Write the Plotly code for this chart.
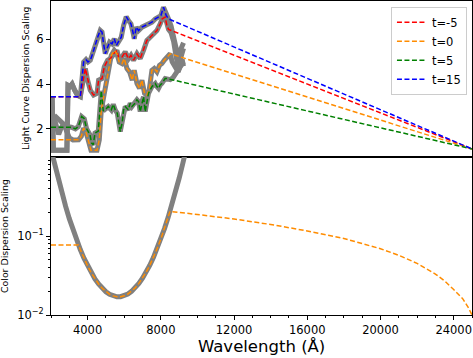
import plotly.graph_objects as go

# ---------------- data ----------------
# shared left part of the gray data for t=-5 and t=15
wl_left_hi = [2060, 2130, 2870, 2930, 3050, 3150, 3280, 3450]
lc_left_hi = [3.44, 1.04, 1.04, 3.95, 3.90, 4.00, 3.75, 3.50]

# t=15 (blue)
wl_t15 = [3602, 3782, 3911, 4020, 4147, 4273, 4420, 4547, 4693, 4786, 4873, 4966,
          5058, 5202, 5333, 5456, 5566, 5691, 5838, 5964, 6111, 6237, 6368, 6477,
          6548, 6657, 6782, 6968, 7147, 7327, 7513, 7693, 7873, 8004, 8146, 8293, 8420]
lc_t15 = [3.44, 4.99, 5.10, 4.99, 5.07, 5.36, 5.80, 6.10, 6.40, 6.33, 5.80, 5.36,
          5.58, 5.88, 5.80, 6.03, 5.73, 5.88, 6.10, 6.62, 7.02, 6.84, 6.70, 6.33,
          6.03, 6.55, 6.40, 6.55, 6.62, 6.70, 6.77, 6.92, 6.99, 7.07, 7.44, 7.07, 6.92]
wl_t15_tail = [8560, 8700, 8840, 8950, 9060, 9170, 9240]
lc_t15_tail = [6.60, 6.10, 5.50, 5.20, 5.50, 5.80, 5.85]

# t=-5 (red)
wl_tm5 = [3602, 3875, 4000, 4147, 4327, 4513, 4600, 4786, 4911, 5091, 5238, 5418,
          5604, 5691, 5876, 6056, 6237, 6368, 6509, 6695, 6875, 7055, 7240, 7420,
          7600, 7786, 7966, 8075, 8238, 8331, 8420]
lc_tm5 = [3.44, 4.70, 4.18, 3.73, 3.51, 3.59, 4.18, 4.25, 4.77, 5.07, 5.14, 5.36,
          5.51, 5.21, 5.21, 5.44, 5.14, 5.29, 5.07, 5.36, 5.14, 5.51, 5.96, 6.10,
          6.25, 6.40, 6.70, 6.92, 7.00, 6.62, 6.45]
wl_tm5_tail = [8560, 8700, 8840, 8950, 9060, 9170, 9240]
lc_tm5_tail = [6.30, 5.90, 5.20, 4.80, 5.10, 5.50, 5.60]

# t=0 (orange)
wl_t0_left = [2180, 2300, 2420, 2560, 2700, 2850, 3000, 3200]
lc_t0_left = [2.45, 2.00, 1.75, 2.05, 2.25, 1.90, 1.60, 1.50]
wl_t0 = [3509, 3656, 3782, 3929, 4055, 4185, 4513, 4638, 4747, 4873, 5020, 5146,
         5293, 5456, 5604, 5729, 5876, 6002, 6149, 6291, 6438, 6548, 6695, 6837,
         6968, 7109, 7240, 7365, 7513, 7638, 7786, 7928, 8058, 8184, 8331, 8511]
lc_t0 = [1.51, 1.66, 2.03, 1.81, 1.36, 1.04, 1.04, 1.51, 2.84, 3.44, 4.18, 4.77,
         5.29, 5.51, 5.36, 4.99, 4.92, 5.14, 4.70, 4.55, 4.18, 4.62, 4.03, 3.81,
         4.18, 3.59, 3.51, 3.73, 4.62, 4.70, 4.55, 4.84, 4.92, 5.07, 5.21, 5.36]
wl_t0_tail = [8620, 8729, 8838, 8948, 9057, 9166, 9237]
lc_t0_tail = [5.00, 4.85, 4.60, 4.55, 4.80, 5.10, 4.80]

# t=5 (green)
wl_t5_left = [2180, 2350, 2511, 2700, 2900]
lc_t5_left = [2.60, 2.50, 2.35, 2.20, 2.10]
wl_t5 = [3111, 3329, 3493, 3673, 3820, 3945, 4131, 4218, 4311, 4404, 4584, 4747,
         4856, 5020, 5129, 5293, 5402, 5511, 5620, 5784, 5893, 5964, 6056, 6220,
         6329, 6422, 6493, 6602, 6695, 6782, 6875, 6968, 7055, 7147, 7240, 7327,
         7513, 7600, 7693, 7786, 7873, 7966, 8058, 8238, 8331]
lc_t5 = [2.07, 2.00, 2.10, 2.55, 2.45, 2.00, 1.73, 1.36, 1.29, 1.81, 1.90, 3.70,
         2.80, 2.90, 3.00, 2.85, 3.10, 2.84, 2.70, 1.88, 2.30, 2.84, 3.00, 2.85,
         3.15, 3.00, 3.07, 3.15, 3.30, 3.22, 2.77, 3.22, 3.44, 2.77, 3.30, 3.59,
         3.89, 3.96, 4.03, 3.89, 3.81, 3.96, 4.03, 4.25, 4.25]
wl_t5_tail = [8511, 8675, 8838, 9002, 9166, 9237]
lc_t5_tail = [4.20, 4.30, 4.50, 4.60, 4.90, 5.00]

# model extrapolation anchors
wl_start, wl_end = 2000, 25000
lc_end_value = 1.10

# color dispersion (bottom panel)
wl_cd = [2000, 2200, 2400, 2600, 2800, 3000, 3200, 3400, 3500, 3600, 3800, 4000,
         4200, 4400, 4600, 4800, 5000, 5200, 5400, 5600, 5800, 6000, 6200, 6400,
         6600, 6800, 7000, 7200, 7400, 7600, 7800, 8000, 8200, 8400, 8500, 8600,
         8800, 9000, 9200, 9400]
cd_data = [1.24, 0.79, 0.516, 0.345, 0.237, 0.166, 0.120, 0.0887, 0.077, 0.0673,
           0.0524, 0.0418, 0.0342, 0.0287, 0.0247, 0.0218, 0.0197, 0.0183, 0.01745,
           0.0170, 0.01706, 0.0175, 0.01844, 0.0199, 0.0220, 0.0251, 0.0292, 0.0349,
           0.0427, 0.0537, 0.0692, 0.0914, 0.124, 0.172, 0.205, 0.245, 0.359, 0.538,
           0.828, 1.30]
wl_cd_right = [10000, 12000, 14000, 16000, 18000, 20000, 21000, 22000, 23000,
               23500, 24000, 24500, 24800, 25000]
cd_right = [0.187, 0.164, 0.140, 0.116, 0.093, 0.069, 0.057, 0.045, 0.033,
            0.027, 0.021, 0.016, 0.0124, 0.0100]
cd_flat_left = 0.077

xticks = [4000, 8000, 12000, 16000, 20000, 24000]
lc_yticks = [2, 4, 6]

# ---------------- figure ----------------
GRAY = "rgb(128,128,128)"
FONT = "DejaVu Sans"
fig = go.Figure()

series = [
    ("t=-5", "#ff0000", wl_left_hi, lc_left_hi, wl_tm5, lc_tm5, wl_tm5_tail, lc_tm5_tail),
    ("t=0", "#ff8c00", wl_t0_left, lc_t0_left, wl_t0, lc_t0, wl_t0_tail, lc_t0_tail),
    ("t=5", "#008000", wl_t5_left, lc_t5_left, wl_t5, lc_t5, wl_t5_tail, lc_t5_tail),
    ("t=15", "#0000ff", wl_left_hi, lc_left_hi, wl_t15, lc_t15, wl_t15_tail, lc_t15_tail),
]

for name, col, wl_l, lc_l, wl_m, lc_m, wl_t, lc_t in series:
    fig.add_trace(go.Scatter(x=wl_l + wl_m + wl_t, y=lc_l + lc_m + lc_t, mode="lines",
                             line=dict(color=GRAY, width=5), showlegend=False,
                             hoverinfo="skip", xaxis="x", yaxis="y"))

for name, col, wl_l, lc_l, wl_m, lc_m, wl_t, lc_t in series:
    fig.add_trace(go.Scatter(x=[wl_start] + wl_m + [wl_end],
                             y=[lc_m[0]] + lc_m + [lc_end_value], mode="lines", name=name,
                             line=dict(color=col, width=1.5, dash="5px,2.5px"),
                             xaxis="x", yaxis="y"))

# bottom panel
fig.add_trace(go.Scatter(x=wl_cd, y=cd_data, mode="lines", line=dict(color=GRAY, width=5),
                         showlegend=False, xaxis="x2", yaxis="y2"))
i0 = wl_cd.index(3500)
i1 = wl_cd.index(8500)
fig.add_trace(go.Scatter(x=[wl_start] + wl_cd[i0:i1 + 1] + wl_cd_right,
                         y=[cd_flat_left] + cd_data[i0:i1 + 1] + cd_right, mode="lines",
                         line=dict(color="#ff8c00", width=1.5, dash="5px,2.5px"),
                         showlegend=False, xaxis="x2", yaxis="y2"))

split = (315 - 157) / 314
axis_common = dict(showline=True, mirror=True, linecolor="black", linewidth=1,
                   showgrid=False, zeroline=False, tickcolor="black", automargin=False,
                   tickfont=dict(family=FONT, size=11.5, color="black"))

minor_y2 = [0.02, 0.03, 0.04, 0.05, 0.06, 0.07, 0.08, 0.09,
            0.2, 0.3, 0.4, 0.5, 0.6, 0.7, 0.8, 0.9]

fig.update_layout(
    width=473, height=358,
    margin=dict(l=51, r=1, t=1, b=43, autoexpand=False),
    paper_bgcolor="white", plot_bgcolor="white",
    font=dict(family=FONT, color="black"),
    showlegend=True,
    hovermode=False,
    legend=dict(x=0.988, y=0.982, xanchor="right", yanchor="top",
                bordercolor="#cccccc", borderwidth=1, bgcolor="rgba(255,255,255,0.85)",
                font=dict(family=FONT, size=11.5, color="black"), itemwidth=30),
    xaxis=dict(domain=[0, 1], anchor="y", range=[2000, 25000], matches="x2",
               showticklabels=False, ticks="", **axis_common),
    yaxis=dict(domain=[split, 1], anchor="x", range=[0.74, 7.72], tickvals=lc_yticks,
               ticks="outside", ticklen=4, **axis_common),
    xaxis2=dict(domain=[0, 1], anchor="y2", range=[2000, 25000], tickvals=xticks,
                ticktext=[str(v) for v in xticks], ticks="outside", ticklen=4,
                minor=dict(dtick=1000, tick0=0, ticks="outside", ticklen=2,
                           tickcolor="black"), **axis_common),
    yaxis2=dict(domain=[0, split], anchor="x2", type="log", range=[-2, 0],
                tickvals=[0.01, 0.1], ticktext=["10<sup>−2</sup>", "10<sup>−1</sup>"],
                ticks="outside", ticklen=4,
                minor=dict(tickmode="array", tickvals=minor_y2, ticks="outside",
                           ticklen=2, tickcolor="black"), **axis_common),
    annotations=[
        dict(text="Light Curve Dispersion Scaling", xref="paper", yref="paper",
             x=(26 - 51) / 421, y=(315 - 79) / 314, textangle=-90, showarrow=False,
             xanchor="center", yanchor="middle", font=dict(family=FONT, size=9.4)),
        dict(text="Color Dispersion Scaling", xref="paper", yref="paper",
             x=(5 - 51) / 421, y=(315 - 236) / 314, textangle=-90, showarrow=False,
             xanchor="center", yanchor="middle", font=dict(family=FONT, size=9.4)),
        dict(text="Wavelength (Å)", xref="paper", yref="paper",
             x=0.5, y=(315 - 346) / 314, showarrow=False,
             xanchor="center", yanchor="middle", font=dict(family=FONT, size=16.5)),
    ],
)

fig.write_html("out.html", config={"displayModeBar": False, "staticPlot": True},
               post_script="document.body.style.margin='0';document.body.style.overflow='hidden';")
